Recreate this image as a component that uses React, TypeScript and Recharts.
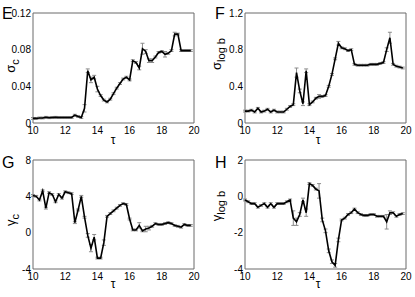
import { LineChart, Line, XAxis, YAxis, ReferenceArea, ErrorBar } from 'recharts'

const taus = [
  10, 10.2, 10.4, 10.6, 10.8, 11, 11.2, 11.4, 11.6, 11.8,
  12, 12.2, 12.4, 12.6, 12.8, 13, 13.2, 13.4, 13.6, 13.8,
  14, 14.2, 14.4, 14.6, 14.8, 15, 15.2, 15.4, 15.6, 15.8,
  16, 16.2, 16.4, 16.6, 16.8, 17, 17.2, 17.4, 17.6, 17.8,
  18, 18.2, 18.4, 18.6, 18.8, 19, 19.2, 19.4, 19.6, 19.8,
]

const sigmaC = [
  0.005, 0.005, 0.0055, 0.0055, 0.0062, 0.0058, 0.006, 0.0062, 0.006, 0.006,
  0.006, 0.006, 0.006, 0.0085, 0.0072, 0.006, 0.016, 0.057, 0.047, 0.05,
  0.037, 0.03, 0.025, 0.023, 0.026, 0.032, 0.038, 0.043, 0.048, 0.05,
  0.047, 0.068, 0.066, 0.06, 0.081, 0.078, 0.068, 0.068, 0.072, 0.077,
  0.078, 0.075, 0.076, 0.079, 0.097, 0.097, 0.079, 0.079, 0.079, 0.079,
]
const sigmaCErr = [
  0.001, 0.001, 0.001, 0.001, 0.001, 0.001, 0.001, 0.001, 0.001, 0.001,
  0.001, 0.001, 0.001, 0.001, 0.001, 0.001, 0.004, 0.002, 0.003, 0.002,
  0.003, 0.001, 0.001, 0.001, 0.001, 0.001, 0.001, 0.001, 0.001, 0.001,
  0.001, 0.001, 0.001, 0.002, 0.006, 0.002, 0.002, 0.002, 0.001, 0.001,
  0.001, 0.003, 0.001, 0.001, 0.002, 0.001, 0.001, 0.001, 0.001, 0.001,
]

const sigmaLogB = [
  0.13, 0.13, 0.14, 0.12, 0.16, 0.12, 0.13, 0.15, 0.12, 0.14,
  0.12, 0.12, 0.12, 0.15, 0.18, 0.2, 0.55, 0.35, 0.21, 0.57,
  0.2, 0.23, 0.27, 0.29, 0.29, 0.3, 0.4, 0.53, 0.7, 0.87,
  0.82, 0.81, 0.79, 0.8, 0.64, 0.63, 0.63, 0.63, 0.63, 0.64,
  0.64, 0.64, 0.65, 0.66, 0.8, 0.93, 0.64, 0.62, 0.61, 0.6,
]
const sigmaLogBErr = [
  0.01, 0.01, 0.01, 0.01, 0.01, 0.01, 0.01, 0.01, 0.01, 0.01,
  0.01, 0.01, 0.01, 0.01, 0.01, 0.01, 0.05, 0.02, 0.02, 0.02,
  0.01, 0.01, 0.01, 0.02, 0.01, 0.01, 0.01, 0.01, 0.01, 0.02,
  0.01, 0.01, 0.01, 0.01, 0.01, 0.01, 0.01, 0.01, 0.01, 0.01,
  0.01, 0.01, 0.01, 0.01, 0.02, 0.06, 0.01, 0.01, 0.01, 0.01,
]

const gammaC = [
  4.1, 4.0, 3.6, 4.6, 2.7, 4.4, 4.2, 3.4, 4.2, 3.8,
  4.5, 4.4, 4.3, 1.1, 2.5, 4.0, 1.7, -0.3, -1.7, -0.5,
  -2.8, -2.8, -1.1, 1.8, 2.1, 2.4, 2.7, 3.0, 3.2, 3.1,
  1.5, 0.3, 0.3, 0.8, 0.2, 0.4, 0.5, 0.7, 1.0, 0.9,
  0.9, 1.0, 1.1, 1.0, 0.8, 0.7, 0.6, 0.9, 0.8, 0.8,
]
const gammaCErr = [
  0.1, 0.1, 0.1, 0.1, 0.1, 0.1, 0.1, 0.1, 0.1, 0.1,
  0.1, 0.1, 0.1, 0.1, 0.1, 0.1, 0.1, 0.2, 0.4, 0.3,
  0.1, 0.1, 0.3, 0.1, 0.1, 0.1, 0.1, 0.1, 0.1, 0.1,
  0.1, 0.1, 0.1, 0.3, 0.1, 0.3, 0.2, 0.1, 0.1, 0.1,
  0.1, 0.1, 0.1, 0.1, 0.1, 0.1, 0.1, 0.1, 0.1, 0.1,
]

const gammaLogB = [
  -0.2, -0.3, -0.4, -0.4, -0.6, -0.5, -0.4, -0.6, -0.4, -0.6,
  -0.4, -0.4, -0.4, -0.3, -0.2, -1.2, -1.4, -1.0, -0.2, -0.9,
  0.7, 0.6, 0.4, 0.3, -1.3, -1.9, -3.0, -3.6, -3.8, -2.4,
  -1.3, -1.2, -1.0, -0.9, -0.7, -0.9, -1.0, -1.05, -1.05, -1.0,
  -1.0, -1.1, -1.1, -1.1, -1.4, -0.9, -0.9, -1.1, -1.0, -0.95,
]
const gammaLogBErr = [
  0.05, 0.05, 0.05, 0.05, 0.05, 0.05, 0.05, 0.05, 0.05, 0.05,
  0.05, 0.05, 0.05, 0.05, 0.05, 0.4, 0.2, 0.1, 0.1, 0.2,
  0.05, 0.05, 0.05, 0.4, 0.1, 0.1, 0.1, 0.1, 0.1, 0.1,
  0.05, 0.05, 0.05, 0.05, 0.05, 0.05, 0.05, 0.05, 0.05, 0.05,
  0.05, 0.05, 0.05, 0.05, 0.4, 0.1, 0.05, 0.05, 0.05, 0.05,
]

const xTicks = [10, 12, 14, 16, 18, 20]
const ticksE = [0, 0.04, 0.08, 0.12]
const ticksF = [0, 0.4, 0.8, 1.2]
const ticksG = [-4, 0, 4, 8]
const ticksH = [-4, -2, 0, 2]

const font = '"Liberation Sans", Arial, Helvetica, sans-serif'
const boxColor = '#6a6a6a'

interface PanelProps {
  letter: string
  values: number[]
  errors: number[]
  yTicks: number[]
  left: number
  top: number
  width: number
  height: number
  axisWidth: number
  marginTop: number
  marginRight: number
  xAxisHeight: number
  greek: string
  sub: string
  labelX: number
  labelY: number
  tauX: number
  tauY: number
  letterX: number
  letterY: number
}

function Panel(p: PanelProps) {
  const data = taus.map((t, i) => ({ t, v: p.values[i], e: p.errors[i] }))
  const lo = p.yTicks[0]
  const hi = p.yTicks[p.yTicks.length - 1]
  return (
    <div style={{ position: 'absolute', left: p.left, top: p.top, width: p.width, height: p.height }}>
      <LineChart
        width={p.width}
        height={p.height}
        data={data}
        margin={{ top: p.marginTop, right: p.marginRight, left: 0, bottom: 0 }}
      >
        <XAxis
          dataKey="t"
          type="number"
          domain={[10, 20]}
          ticks={xTicks}
          height={p.xAxisHeight}
          axisLine={false}
          tickLine={false}
          tickSize={0}
          tickMargin={4}
          tick={{ fontSize: 10, fill: '#000', fontFamily: font }}
        />
        <YAxis
          type="number"
          domain={[lo, hi]}
          ticks={p.yTicks}
          width={p.axisWidth}
          axisLine={false}
          tickLine={false}
          tickSize={0}
          tickMargin={2}
          interval={0}
          tick={{ fontSize: 10, fill: '#000', fontFamily: font }}
        />
        <ReferenceArea x1={10} x2={20} y1={lo} y2={hi} fill="none" stroke={boxColor} strokeWidth={1} ifOverflow="visible" />
        <Line
          dataKey="v"
          type="linear"
          stroke="#000"
          strokeWidth={1.6}
          dot={false}
          activeDot={false}
          isAnimationActive={false}
        >
          <ErrorBar dataKey="e" width={2} stroke="#8c8c8c" strokeWidth={1} direction="y" />
        </Line>
      </LineChart>
      <svg
        width={p.width}
        height={p.height}
        style={{ position: 'absolute', left: 0, top: 0, pointerEvents: 'none' }}
      >
        <text x={p.letterX} y={p.letterY} fontFamily={font} fontSize={16} fill="#000">
          {p.letter}
        </text>
        <text x={p.tauX} y={p.tauY} textAnchor="middle" fontSize={12} fontFamily={font} fill="#000">
          τ
        </text>
        <text
          x={p.labelX}
          y={p.labelY}
          transform={`rotate(-90, ${p.labelX}, ${p.labelY})`}
          textAnchor="middle"
          fontFamily={font}
          fontSize={13}
          fill="#000"
        >
          <tspan>{p.greek}</tspan>
          <tspan dy={4} fontSize={11}>
            {p.sub}
          </tspan>
        </text>
      </svg>
    </div>
  )
}

export default function App() {
  return (
    <div style={{ position: 'absolute', left: 0, top: 0, width: 415, height: 297, background: '#fff' }}>
      <Panel
        letter="E"
        values={sigmaC}
        errors={sigmaCErr}
        yTicks={ticksE}
        left={0}
        top={0}
        width={207}
        height={148}
        axisWidth={33}
        marginTop={13}
        marginRight={13}
        xAxisHeight={25}
        greek="σ"
        sub="c"
        labelX={15}
        labelY={66}
        tauX={113}
        tauY={144}
        letterX={2}
        letterY={19}
      />
      <Panel
        letter="F"
        values={sigmaLogB}
        errors={sigmaLogBErr}
        yTicks={ticksF}
        left={207}
        top={0}
        width={208}
        height={148}
        axisWidth={38}
        marginTop={13}
        marginRight={9}
        xAxisHeight={25}
        greek="σ"
        sub="log b"
        labelX={14}
        labelY={54}
        tauX={111}
        tauY={144}
        letterX={8}
        letterY={19}
      />
      <Panel
        letter="G"
        values={gammaC}
        errors={gammaCErr}
        yTicks={ticksG}
        left={0}
        top={148}
        width={207}
        height={149}
        axisWidth={33}
        marginTop={12}
        marginRight={13}
        xAxisHeight={28}
        greek="γ"
        sub="c"
        labelX={15}
        labelY={72}
        tauX={113}
        tauY={140}
        letterX={2}
        letterY={20}
      />
      <Panel
        letter="H"
        values={gammaLogB}
        errors={gammaLogBErr}
        yTicks={ticksH}
        left={207}
        top={148}
        width={208}
        height={149}
        axisWidth={38}
        marginTop={12}
        marginRight={9}
        xAxisHeight={28}
        greek="γ"
        sub="log b"
        labelX={14}
        labelY={58}
        tauX={111}
        tauY={140}
        letterX={8}
        letterY={20}
      />
    </div>
  )
}
